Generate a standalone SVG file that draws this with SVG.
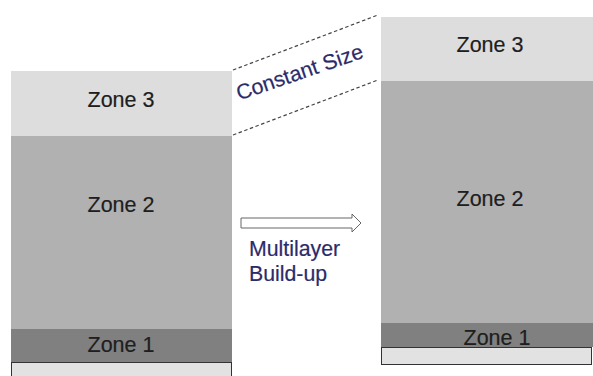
<svg xmlns="http://www.w3.org/2000/svg" width="593" height="376" viewBox="0 0 593 376">
<style>
.z3{fill:#dddddd}
.z2{fill:#b1b1b1}
.z1{fill:#808080}
.sub{fill:#e2e2e2;stroke:#333;stroke-width:1}
.zt{font-family:"Liberation Sans",Arial,sans-serif;font-size:21.5px;fill:#1e1e1e;text-anchor:middle;stroke:#1e1e1e;stroke-width:0.2}
.bt{font-family:"Liberation Sans",Arial,sans-serif;font-size:21.3px;fill:#2b2b6a;stroke:#2b2b6a;stroke-width:0.2}
.dash{fill:none;stroke:#444;stroke-width:1.2;stroke-dasharray:3.5 2.5}
</style>
<rect width="593" height="376" fill="#ffffff"/>
<g id="left-stack">
<g id="left-zone3"><rect class="z3" x="11" y="71" width="221" height="65"/><text class="zt" x="121" y="107">Zone 3</text></g>
<g id="left-zone2"><rect class="z2" x="11" y="136" width="221" height="193"/><text class="zt" x="121" y="212">Zone 2</text></g>
<g id="left-zone1"><rect class="z1" x="11" y="329" width="221" height="33"/><text class="zt" x="121" y="352">Zone 1</text></g>
<g id="left-substrate"><rect class="sub" x="11.5" y="362.5" width="220" height="20"/></g>
</g>
<g id="right-stack">
<g id="right-zone3"><rect class="z3" x="381" y="17" width="212" height="64"/><text class="zt" x="490" y="52">Zone 3</text></g>
<g id="right-zone2"><rect class="z2" x="381" y="81" width="212" height="242"/><text class="zt" x="490" y="206">Zone 2</text></g>
<g id="right-zone1"><rect class="z1" x="381" y="323" width="212" height="24"/><text class="zt" x="497" y="345">Zone 1</text></g>
<g id="right-substrate"><rect class="sub" x="381.5" y="347.5" width="210" height="17"/></g>
</g>
<g id="connectors">
<line class="dash" x1="233" y1="70" x2="378" y2="15"/>
<line class="dash" x1="233" y1="135" x2="378" y2="80"/>
<path d="M241,218 L352,218 L352,214 L361,223 L352,232 L352,228 L241,228 Z" fill="#ffffff" stroke="#666" stroke-width="1"/>
</g>
<g id="labels">
<text class="bt" x="302" y="79" text-anchor="middle" transform="rotate(-19 302 79)">Constant Size</text>
<text class="bt" x="249" y="256">Multilayer</text>
<text class="bt" x="249" y="281">Build-up</text>
</g>
</svg>
